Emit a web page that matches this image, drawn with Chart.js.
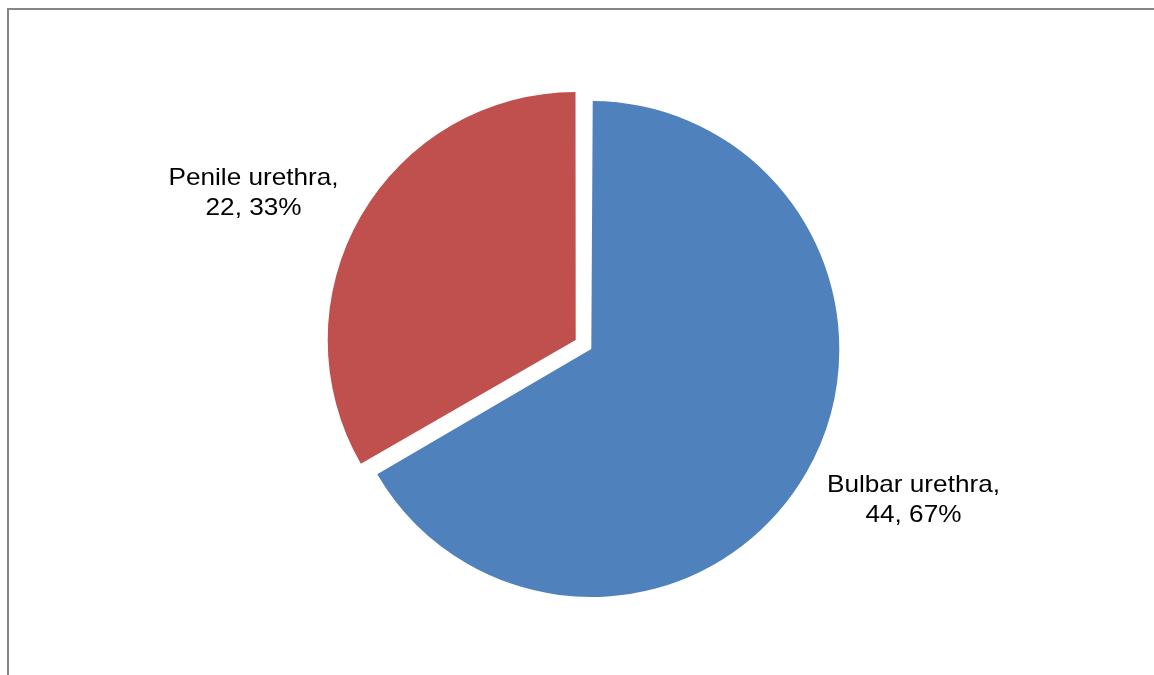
<!DOCTYPE html>
<html>
<head>
<meta charset="utf-8">
<script src="https://cdn.jsdelivr.net/npm/chart.js@4/dist/chart.umd.min.js"></script>
<style>
  body { margin: 0; background: #fff; }
  #wrap { position: relative; width: 1154px; height: 675px; overflow: hidden; }
  #frame { position: absolute; left: 7px; top: 8px; width: 1200px; height: 700px;
           border-top: 2px solid #868686; border-left: 2px solid #868686; }
  canvas { position: absolute; left: 0; top: 0; }
</style>
</head>
<body>
<div id="wrap">
  <div id="frame"></div>
  <canvas id="pieChart" width="1154" height="675"></canvas>
</div>
<script>
// chart data
var categories = ['Bulbar urethra', 'Penile urethra'];
var counts = [44, 22];
var sliceColors = ['#4F81BD', '#C0504D'];

var PIE_RADIUS = 248;
var EXPLODE = 36; // chart.js moves each arc by offset / 4

// chart.js grows big arcs by the offset, keep every slice the same size
var evenRadius = {
  id: 'evenRadius',
  afterDatasetUpdate: function(chart, args) {
    var meta = chart.getDatasetMeta(args.index);
    meta.data.forEach(function(arc) {
      var circ = arc.endAngle - arc.startAngle;
      var fix = 1 - Math.sin(Math.min(Math.PI, circ));
      arc.outerRadius = PIE_RADIUS - (EXPLODE / 4) * fix;
    });
  }
};

// draws "name, value, pct%" labels beside each slice
var sliceLabels = {
  id: 'sliceLabels',
  afterDatasetsDraw: function(chart) {
    var ctx = chart.ctx;
    var meta = chart.getDatasetMeta(0);
    var total = counts.reduce(function(a, b) { return a + b; }, 0);
    ctx.save();
    ctx.fillStyle = '#000';
    ctx.font = '24px "Liberation Sans", Arial, sans-serif';
    ctx.textAlign = 'center';
    ctx.textBaseline = 'alphabetic';
    meta.data.forEach(function(arc, i) {
      var mid = (arc.startAngle + arc.endAngle) / 2;
      var shift = EXPLODE / 4;
      var cx = arc.x + Math.cos(mid) * shift;
      var cy = arc.y + Math.sin(mid) * shift;
      var lx = cx + Math.cos(mid) * PIE_RADIUS * 1.5;
      var ly = cy + Math.sin(mid) * PIE_RADIUS * 1.2;
      var pct = Math.round(counts[i] / total * 100);
      var lines = [categories[i] + ',', counts[i] + ', ' + pct + '%'];
      lines.forEach(function(txt, k) {
        ctx.save();
        ctx.translate(lx, ly - 6 + k * 30);
        ctx.scale(1.09, 1);
        ctx.fillText(txt, 0, 0);
        ctx.restore();
      });
    });
    ctx.restore();
  }
};

new Chart(document.getElementById('pieChart'), {
  type: 'pie',
  data: {
    labels: categories,
    datasets: [{
      data: counts,
      backgroundColor: sliceColors,
      borderWidth: 0,
      offset: EXPLODE
    }]
  },
  options: {
    responsive: false,
    animation: false,
    radius: PIE_RADIUS,
    layout: { padding: { left: 13, top: 14, right: 0, bottom: 0 } },
    plugins: {
      legend: { display: false },
      tooltip: { enabled: false }
    }
  },
  plugins: [evenRadius, sliceLabels]
});
</script>
</body>
</html>
